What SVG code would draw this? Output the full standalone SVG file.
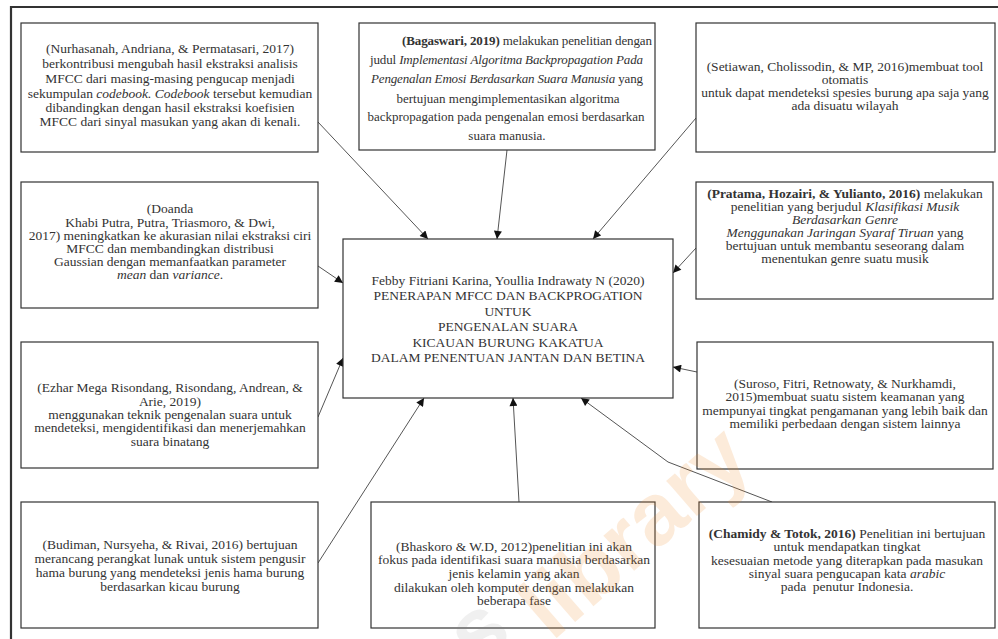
<svg xmlns="http://www.w3.org/2000/svg" width="998" height="639" viewBox="0 0 998 639">
<defs>
<style>
.box{fill:#fff;stroke:#333;stroke-width:1.2}
.t{font-family:"Liberation Serif","Times New Roman",serif;font-size:13.5px;fill:#333;text-anchor:middle}
.sm{font-size:13px}
.s{text-anchor:start}
.b{font-weight:bold}
.i{font-style:italic}
.conn{stroke:#555;stroke-width:1;fill:none;marker-end:url(#arr)}
.wm{font-family:"Liberation Sans",Arial,sans-serif;font-weight:bold;font-size:88px}
</style>
<marker id="arr" viewBox="0 0 10 10" refX="10" refY="5" markerWidth="9" markerHeight="8" markerUnits="userSpaceOnUse" orient="auto">
<path d="M0,0 L10,5 L0,10 z" fill="#111"/>
</marker>
</defs>
<rect width="998" height="639" fill="#fff"/>
<path d="M11,639 V7 H998" fill="none" stroke="#333" stroke-width="2.2"/>
<g id="connectors">
<line class="conn" x1="318" y1="122" x2="428" y2="239"/>
<line class="conn" x1="507" y1="150" x2="497" y2="239"/>
<line class="conn" x1="696" y1="118" x2="593" y2="239"/>
<line class="conn" x1="318" y1="266" x2="343" y2="283"/>
<line class="conn" x1="318" y1="417" x2="343" y2="358"/>
<line class="conn" x1="318" y1="563" x2="424" y2="398"/>
<line class="conn" x1="519" y1="502" x2="513" y2="398"/>
<polyline class="conn" points="772,502 668,462 581,398"/>
<line class="conn" x1="697" y1="372" x2="673" y2="367"/>
<line class="conn" x1="696" y1="248" x2="673" y2="273"/>
</g>
<g id="center">
<rect class="box" x="343" y="239" width="330" height="159"/>
<text class="t" x="508" y="285">Febby Fitriani Karina, Youllia Indrawaty N (2020)</text>
<text class="t" x="508" y="300">PENERAPAN MFCC DAN BACKPROGATION</text>
<text class="t" x="508" y="316">UNTUK</text>
<text class="t" x="508" y="331">PENGENALAN SUARA</text>
<text class="t" x="508" y="347">KICAUAN BURUNG KAKATUA</text>
<text class="t" x="508" y="362">DALAM PENENTUAN JANTAN DAN BETINA</text>
</g>
<g id="nurhasanah">
<rect class="box" x="21" y="23" width="297" height="129"/>
<text class="t" x="170" y="53">(Nurhasanah, Andriana, &amp; Permatasari, 2017)</text>
<text class="t" x="170" y="68">berkontribusi mengubah hasil ekstraksi analisis</text>
<text class="t" x="170" y="83">MFCC dari masing-masing pengucap menjadi</text>
<text class="t" x="170" y="98">sekumpulan <tspan class="i">codebook.</tspan> <tspan class="i">Codebook</tspan> tersebut kemudian</text>
<text class="t" x="170" y="112">dibandingkan dengan hasil ekstraksi koefisien</text>
<text class="t" x="170" y="126">MFCC dari sinyal masukan yang akan di kenali.</text>
</g>
<g id="bagaswari">
<rect class="box" x="359" y="23" width="296" height="127"/>
<text class="t sm s" x="402" y="45" textLength="250" lengthAdjust="spacing"><tspan class="b">(Bagaswari, 2019)</tspan> melakukan penelitian dengan</text>
<text class="t sm s" x="370" y="64" textLength="273" lengthAdjust="spacing">judul <tspan class="i">Implementasi Algoritma Backpropagation Pada</tspan></text>
<text class="t sm s" x="371" y="83" textLength="272" lengthAdjust="spacing"><tspan class="i">Pengenalan Emosi Berdasarkan Suara Manusia</tspan> yang</text>
<text class="t sm" x="508" y="103">bertujuan mengimplementasikan algoritma</text>
<text class="t sm" x="506" y="121">backpropagation pada pengenalan emosi berdasarkan</text>
<text class="t sm" x="507" y="140">suara manusia.</text>
</g>
<g id="setiawan">
<rect class="box" x="696" y="23" width="299" height="129"/>
<text class="t" x="845" y="71">(Setiawan, Cholissodin, &amp; MP, 2016)membuat tool</text>
<text class="t" x="845" y="84">otomatis</text>
<text class="t" x="845" y="97">untuk dapat mendeteksi spesies burung apa saja yang</text>
<text class="t" x="845" y="110">ada disuatu wilayah</text>
</g>
<g id="doanda">
<rect class="box" x="21" y="182" width="297" height="126"/>
<text class="t" x="170" y="213">(Doanda</text>
<text class="t" x="170" y="227">Khabi Putra, Putra, Triasmoro, &amp; Dwi,</text>
<text class="t" x="170" y="240">2017) meningkatkan ke akurasian nilai ekstraksi ciri</text>
<text class="t" x="170" y="253">MFCC dan membandingkan distribusi</text>
<text class="t" x="170" y="266">Gaussian dengan memanfaatkan parameter</text>
<text class="t" x="170" y="279"><tspan class="i">mean</tspan> dan <tspan class="i">variance</tspan>.</text>
</g>
<g id="pratama">
<rect class="box" x="696" y="182" width="297" height="117"/>
<text class="t" x="845" y="198"><tspan class="b">(Pratama, Hozairi, &amp; Yulianto, 2016)</tspan> melakukan</text>
<text class="t" x="845" y="211">penelitian yang berjudul <tspan class="i">Klasifikasi Musik</tspan></text>
<text class="t i" x="845" y="224">Berdasarkan Genre</text>
<text class="t" x="845" y="237"><tspan class="i">Menggunakan Jaringan Syaraf Tiruan</tspan> yang</text>
<text class="t" x="845" y="250">bertujuan untuk membantu seseorang dalam</text>
<text class="t" x="845" y="263">menentukan genre suatu musik</text>
</g>
<g id="ezhar">
<rect class="box" x="21" y="342" width="297" height="126"/>
<text class="t" x="170" y="392">(Ezhar Mega Risondang, Risondang, Andrean, &amp;</text>
<text class="t" x="170" y="406">Arie, 2019)</text>
<text class="t" x="170" y="419">menggunakan teknik pengenalan suara untuk</text>
<text class="t" x="170" y="432">mendeteksi, mengidentifikasi dan menerjemahkan</text>
<text class="t" x="170" y="446">suara binatang</text>
</g>
<g id="suroso">
<rect class="box" x="697" y="342" width="296" height="127"/>
<text class="t" x="845" y="388">(Suroso, Fitri, Retnowaty, &amp; Nurkhamdi,</text>
<text class="t" x="845" y="401">2015)membuat suatu sistem keamanan yang</text>
<text class="t" x="845" y="415">mempunyai tingkat pengamanan yang lebih baik dan</text>
<text class="t" x="845" y="428">memiliki perbedaan dengan sistem lainnya</text>
</g>
<g id="budiman">
<rect class="box" x="21" y="502" width="297" height="126"/>
<text class="t" x="170" y="549">(Budiman, Nursyeha, &amp; Rivai, 2016) bertujuan</text>
<text class="t" x="170" y="563">merancang perangkat lunak untuk sistem pengusir</text>
<text class="t" x="170" y="577">hama burung yang mendeteksi jenis hama burung</text>
<text class="t" x="170" y="591">berdasarkan kicau burung</text>
</g>
<g id="bhaskoro">
<rect class="box" x="371" y="502" width="284" height="126"/>
<text class="t" x="514" y="551">(Bhaskoro &amp; W.D, 2012)penelitian ini akan</text>
<text class="t" x="514" y="564">fokus pada identifikasi suara manusia berdasarkan</text>
<text class="t" x="514" y="578">jenis kelamin yang akan</text>
<text class="t" x="514" y="592">dilakukan oleh komputer dengan melakukan</text>
<text class="t" x="514" y="605">beberapa fase</text>
</g>
<g id="chamidy">
<rect class="box" x="699" y="502" width="296" height="126"/>
<text class="t" x="847" y="538"><tspan class="b">(Chamidy &amp; Totok, 2016)</tspan> Penelitian ini bertujuan</text>
<text class="t" x="847" y="551">untuk mendapatkan tingkat</text>
<text class="t" x="847" y="565">kesesuaian metode yang diterapkan pada masukan</text>
<text class="t" x="847" y="578">sinyal suara pengucapan kata <tspan class="i">arabic</tspan></text>
<text class="t" x="847" y="591">pada &#160;penutur Indonesia.</text>
</g>
<g id="watermark">
<text class="wm" x="478" y="668" fill="#888" opacity="0.12" transform="rotate(-41 478 668)">s</text>
<text class="wm" x="552" y="642" fill="#f28c28" opacity="0.17" transform="rotate(-41 552 642)">library</text>
</g>
</svg>
